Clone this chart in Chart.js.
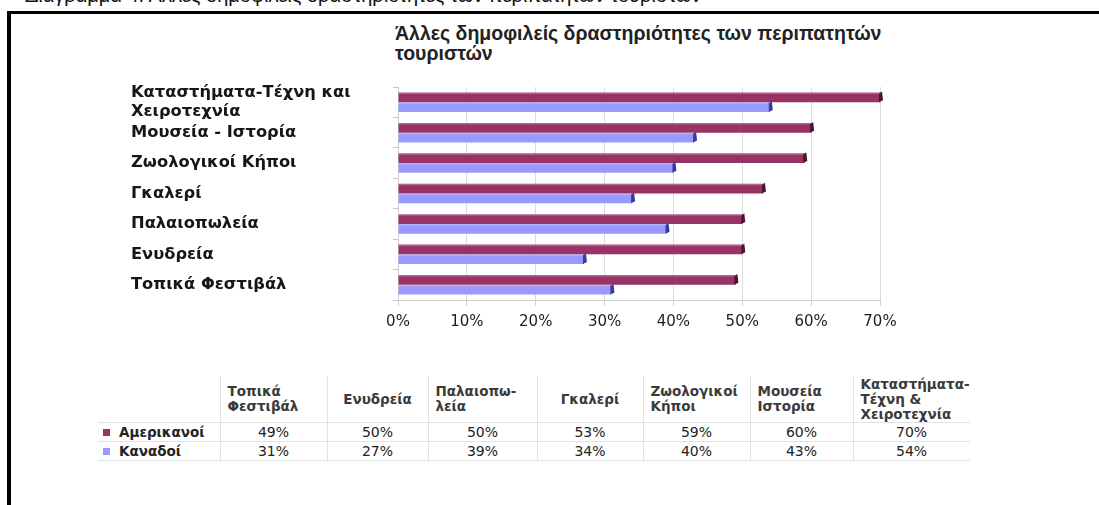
<!DOCTYPE html>
<html lang="el">
<head>
<meta charset="utf-8">
<script src="https://cdn.jsdelivr.net/npm/chart.js@4"></script>
<style>
  html, body { margin: 0; padding: 0; background: #fff; }
  body { width: 1099px; height: 505px; position: relative; overflow: hidden; font-family: "DejaVu Sans", Verdana, sans-serif; }
  #cut { position: absolute; left: 25px; top: -15px; font: 20px/20px "Liberation Sans", Arial, sans-serif; color: #111; white-space: nowrap; }
  #frame { position: absolute; left: 7px; top: 11px; width: 1100px; height: 520px; border-left: 4px solid #000; border-top: 3px solid #000; }
  #title { position: absolute; left: 395px; top: 23px; font: bold 19.5px "Liberation Sans", Arial, sans-serif; line-height: 20px; color: #222; }
  #chartBox { position: absolute; left: 131px; top: 80px; width: 774px; height: 260px; }
  #dataTable { position: absolute; left: 98px; top: 376px; border-collapse: collapse; table-layout: fixed; color: #222; }
  #dataTable th, #dataTable td { border: 1px solid #e2e2e2; padding: 0; }
  #dataTable tr > :first-child { border-left: none; }
  #dataTable tr > :last-child { border-right: none; }
  #dataTable thead th { border-top: none; height: 46px; font-weight: bold; font-size: 13.5px; line-height: 15px; color: #3a3a3a; vertical-align: middle; white-space: nowrap; overflow: visible; }
  #dataTable td { height: 18px; font-size: 14px; text-align: center; line-height: 18px; }
  #dataTable td.name { text-align: left; font-weight: bold; font-size: 13.5px; padding-left: 5px; }
  .key { display: inline-block; width: 7px; height: 7px; margin-right: 9px; vertical-align: 1px; }
</style>
</head>
<body>
<div id="cut">Διάγραμμα 4: Άλλες δημοφιλείς δραστηριότητες των περιπατητών τουριστών</div>
<div id="frame"></div>
<div id="title">Άλλες δημοφιλείς δραστηριότητες των περιπατητών<br>τουριστών</div>
<div id="chartBox"><canvas id="barChart"></canvas></div>
<table id="dataTable"></table>

<script>
// categories as in the data table (bottom bar first)
const categories = [
  "Τοπικά Φεστιβάλ",
  "Ενυδρεία",
  "Παλαιοπωλεία",
  "Γκαλερί",
  "Ζωολογικοί Κήποι",
  "Μουσεία - Ιστορία",
  ["Καταστήματα-Τέχνη και", "Χειροτεχνία"]
];
const tableHeaders = [
  "Τοπικά\nΦεστιβάλ",
  "Ενυδρεία",
  "Παλαιοπω-\nλεία",
  "Γκαλερί",
  "Ζωολογικοί\nΚήποι",
  "Μουσεία\nΙστορία",
  "Καταστήματα-\nΤέχνη &\nΧειροτεχνία"
];
const seriesNames = ["Αμερικανοί", "Καναδοί"];
const americans = [49, 50, 50, 53, 59, 60, 70];
const canadians = [31, 27, 39, 34, 40, 43, 54];
const xTicks = [0, 10, 20, 30, 40, 50, 60, 70];

const colors = ["#993366", "#9999ff"];
const capColors = ["#4a1530", "#3a3a99"];
const colWidths = [122, 107, 101, 109, 106, 107, 103, 114];

// chart lists the top category first, so reverse the table order
const chartLabels = categories.slice().reverse();
const chartSeries = [americans.slice().reverse(), canadians.slice().reverse()];

// small dark end caps to imitate the 3D bars
const barCaps = {
  id: "barCaps",
  afterDatasetsDraw(chart) {
    const ctx = chart.ctx;
    chart.data.datasets.forEach((ds, i) => {
      chart.getDatasetMeta(i).data.forEach(bar => {
        const h = bar.height;
        const top = bar.y - h / 2;
        ctx.save();
        ctx.fillStyle = "rgba(255,255,255,0.25)";
        ctx.fillRect(bar.base, top, bar.x - bar.base, 1.5);
        ctx.fillStyle = capColors[i];
        ctx.beginPath();
        ctx.moveTo(bar.x - 1, top + 1);
        ctx.lineTo(bar.x + 2, top - 1);
        ctx.lineTo(bar.x + 3, top + h - 2);
        ctx.lineTo(bar.x - 1, top + h);
        ctx.closePath();
        ctx.fill();
        ctx.restore();
      });
    });
  }
};

new Chart(document.getElementById("barChart"), {
  type: "bar",
  data: {
    labels: chartLabels,
    datasets: seriesNames.map((name, i) => ({
      label: name,
      data: chartSeries[i],
      backgroundColor: colors[i],
      borderWidth: 0,
      barPercentage: 1,
      categoryPercentage: 0.64
    }))
  },
  options: {
    indexAxis: "y",
    responsive: true,
    maintainAspectRatio: false,
    animation: false,
    layout: { padding: { top: 7, right: 25, left: 0, bottom: 0 } },
    plugins: {
      legend: { display: false },
      tooltip: { enabled: false }
    },
    scales: {
      x: {
        min: 0,
        max: 70,
        afterFit: s => { s.height = 40; },
        afterBuildTicks: s => { s.ticks = xTicks.map(v => ({ value: v })); },
        grid: { color: "#dcdcdc", tickLength: 6, tickColor: "#cfcfcf" },
        border: { color: "#cfcfcf" },
        ticks: {
          padding: 7,
          color: "#1e1e1e",
          font: { family: "DejaVu Sans", size: 15 },
          callback: v => v + "%"
        }
      },
      y: {
        // fixed label column, and no extra room for the two-line top label
        afterFit: s => { s.width = 267; s.paddingTop = 0; s.paddingBottom = 0; },
        grid: { drawOnChartArea: false, offset: true, tickLength: 5, color: "#c8c8c8" },
        border: { color: "#cfcfcf" },
        ticks: {
          autoSkip: false,
          crossAlign: "far",
          color: "#161616",
          font: { family: "DejaVu Sans", size: 16.3, weight: "bold", lineHeight: 1.2 }
        }
      }
    }
  },
  plugins: [barCaps]
});

// data table under the chart
const table = document.getElementById("dataTable");
const colgroup = document.createElement("colgroup");
colWidths.forEach(w => {
  const col = document.createElement("col");
  col.style.width = w + "px";
  colgroup.appendChild(col);
});
table.appendChild(colgroup);

const thead = document.createElement("thead");
const headRow = document.createElement("tr");
headRow.appendChild(document.createElement("th"));
tableHeaders.forEach(h => {
  const th = document.createElement("th");
  th.innerHTML = h.split("\n").join("<br>");
  if (h.includes("\n")) {
    th.style.textAlign = "left";
    th.style.paddingLeft = "7px";
  } else {
    th.style.textAlign = "center";
  }
  headRow.appendChild(th);
});
thead.appendChild(headRow);
table.appendChild(thead);

const tbody = document.createElement("tbody");
[americans, canadians].forEach((values, i) => {
  const tr = document.createElement("tr");
  const name = document.createElement("td");
  name.className = "name";
  name.innerHTML = `<span class="key" style="background:${colors[i]}"></span>${seriesNames[i]}`;
  tr.appendChild(name);
  values.forEach(v => {
    const td = document.createElement("td");
    td.textContent = v + "%";
    tr.appendChild(td);
  });
  tbody.appendChild(tr);
});
table.appendChild(tbody);
</script>
</body>
</html>
